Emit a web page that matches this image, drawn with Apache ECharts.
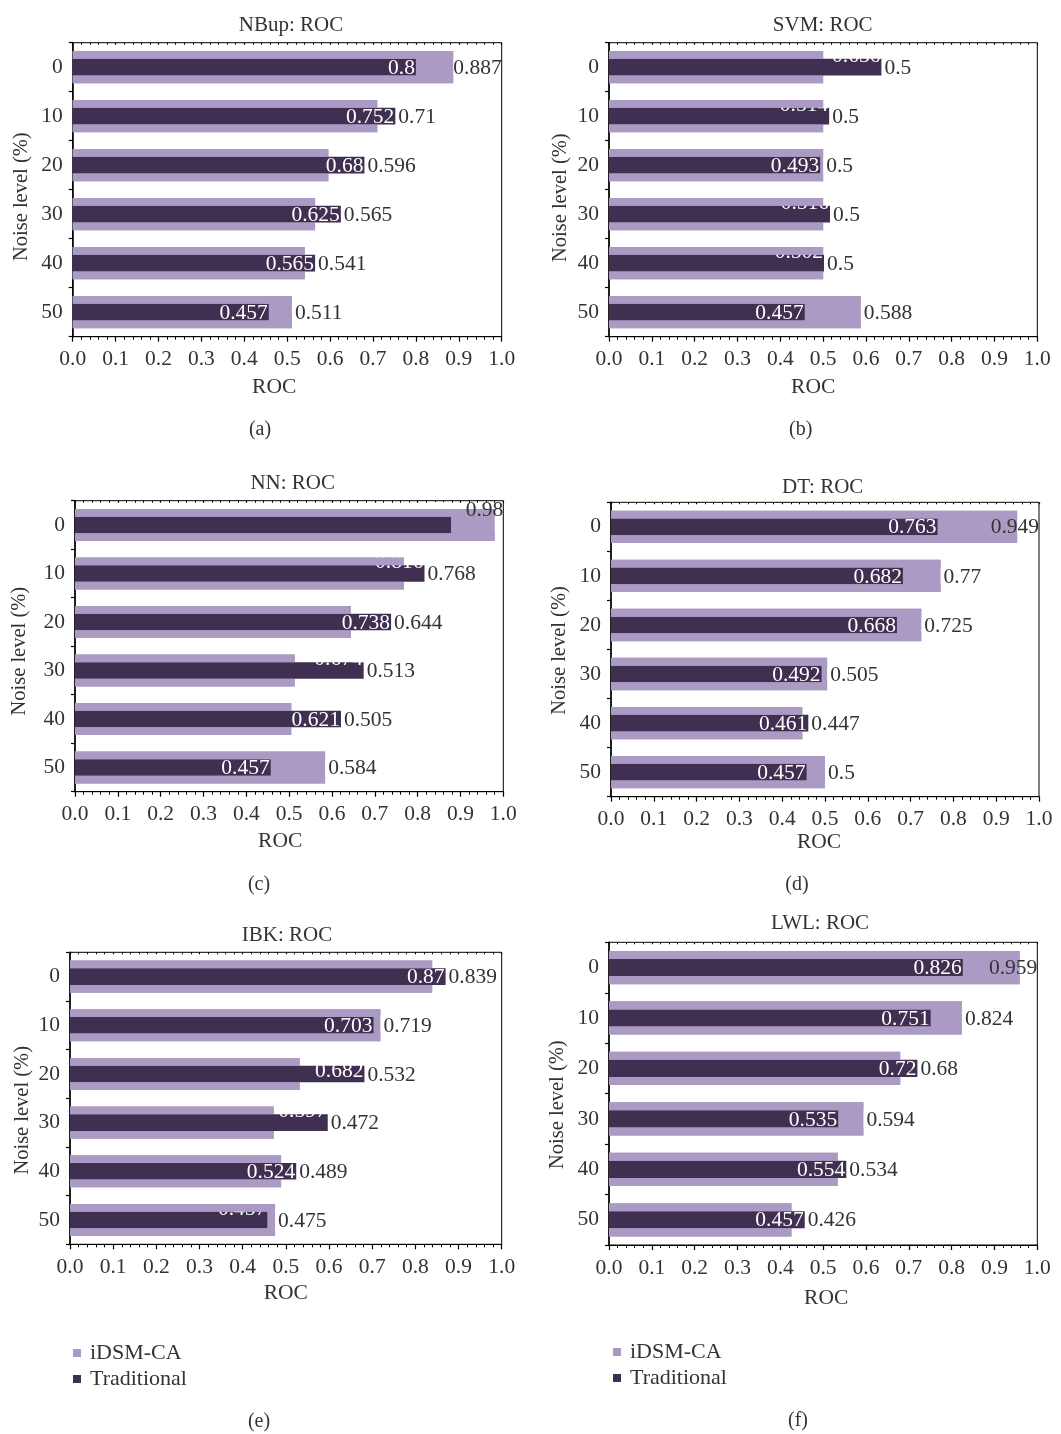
<!DOCTYPE html>
<html>
<head>
<meta charset="utf-8">
<title>ROC under noise: iDSM-CA vs Traditional</title>
<script src="https://cdn.jsdelivr.net/npm/echarts@6/dist/echarts.min.js"></script>
<style>
  html, body { margin: 0; padding: 0; background: #fff; }
  #chart { width: 1061px; height: 1434px; }
</style>
</head>
<body>
<div id="chart"></div>
<script>
// Noise levels (%), top to bottom
const categories = ['0', '10', '20', '30', '40', '50'];
const seriesNames = ['iDSM-CA', 'Traditional'];
const panelTitles = ['NBup: ROC', 'SVM: ROC', 'NN: ROC', 'DT: ROC', 'IBK: ROC', 'LWL: ROC'];
const captions = ['(a)', '(b)', '(c)', '(d)', '(e)', '(f)'];
const xTickLabels = ['0.0', '0.1', '0.2', '0.3', '0.4', '0.5', '0.6', '0.7', '0.8', '0.9', '1.0'];

// ROC values per classifier
const idsmNBup = [0.887, 0.71, 0.596, 0.565, 0.541, 0.511];
const tradNBup = [0.8, 0.752, 0.68, 0.625, 0.565, 0.457];
const idsmSVM = [0.5, 0.5, 0.5, 0.5, 0.5, 0.588];
const tradSVM = [0.636, 0.514, 0.493, 0.516, 0.502, 0.457];
const idsmNN = [0.98, 0.768, 0.644, 0.513, 0.505, 0.584];
const tradNN = [0.878, 0.816, 0.738, 0.674, 0.621, 0.457];
const idsmDT = [0.949, 0.77, 0.725, 0.505, 0.447, 0.5];
const tradDT = [0.763, 0.682, 0.668, 0.492, 0.461, 0.457];
const idsmIBK = [0.839, 0.719, 0.532, 0.472, 0.489, 0.475];
const tradIBK = [0.87, 0.703, 0.682, 0.597, 0.524, 0.457];
const idsmLWL = [0.959, 0.824, 0.68, 0.594, 0.534, 0.426];
const tradLWL = [0.826, 0.751, 0.72, 0.535, 0.554, 0.457];

const idsmAll = [idsmNBup, idsmSVM, idsmNN, idsmDT, idsmIBK, idsmLWL];
const tradAll = [tradNBup, tradSVM, tradNN, tradDT, tradIBK, tradLWL];

// Panel geometry: plot box [left, top, width, height], title centre, caption centre,
// x-name [dx, gap], y-name [gap, shift down], label lifts (px) keyed by row
const layouts = [
  { box: [72.7, 42.7, 429, 294],     title: [291, 25],     cap: [260, 430],    xName: [-13, 40], yName: [41, 7],
    innerLift: {}, outerLift: {} },
  { box: [609, 42.7, 428.3, 294],    title: [822.7, 25],   cap: [800.7, 430],  xName: [-10, 40], yName: [38, 8],
    innerLift: { 0: 12, 1: 12, 3: 12, 4: 12 }, outerLift: {} },
  { box: [75, 500.7, 428.3, 291],    title: [292.7, 483],  cap: [259, 885],    xName: [-9, 39],  yName: [45, 5],
    innerLift: { 0: 16, 1: 12, 3: 12 }, outerLift: { 0: 16 } },
  { box: [611, 502.3, 428, 294.4],   title: [822.7, 486.7], cap: [797, 885],   xName: [-6, 33],  yName: [41, 1],
    innerLift: {}, outerLift: {} },
  { box: [70, 952.3, 431.7, 292],    title: [287, 935],    cap: [259, 1421.7], xName: [0, 38],   yName: [37, 12],
    innerLift: { 2: 4, 3: 12, 5: 12 }, outerLift: {} },
  { box: [609, 942.3, 428.3, 302.7], title: [820, 923],    cap: [798, 1421],   xName: [3, 42],   yName: [41, 11],
    innerLift: {}, outerLift: {} }
];

const FONT = 'Liberation Serif';
const TEXT = '#333';
const LIGHT = '#ab9bc4';
const DARK = '#3f2f50';
const FS = 21.5;
const LABEL_DY = 1; // value labels sit a touch below the bar centre line

// Bar thickness as a share of the category band
const WIDE = 0.66;   // iDSM-CA
const NARROW = 0.34; // Traditional
const EDGE = (WIDE - NARROW) / 2; // light rim above and below the dark bar

// Place the iDSM-CA value just past the longer of the two bars, kept inside the plot box
function outerLabelLayout(idsm, trad, lift) {
  return function (p) {
    const i = p.dataIndex;
    const v = idsm[i];
    const scale = p.rect.width / v;
    const end = p.rect.x + Math.max(v, trad[i]) * scale;
    const right = p.rect.x + 1.0 * scale;
    const x = Math.min(end + 3, right - p.labelRect.width);
    return {
      x: x, y: p.rect.y + p.rect.height / 2 + LABEL_DY - (lift[i] || 0),
      align: 'left', verticalAlign: 'middle'
    };
  };
}

const option = {
  backgroundColor: '#fff',
  animation: false,
  textStyle: { fontFamily: FONT },
  title: [],
  grid: [],
  xAxis: [],
  yAxis: [],
  series: [],
  legend: []
};

layouts.forEach(function (L, g) {
  option.grid.push({
    left: L.box[0], top: L.box[1], width: L.box[2], height: L.box[3],
    show: true, borderColor: '#000', borderWidth: 1, backgroundColor: 'transparent'
  });

  option.title.push({
    text: panelTitles[g], left: L.title[0], top: L.title[1] - 10, textAlign: 'center', padding: 0,
    textStyle: { fontFamily: FONT, fontSize: 21, fontWeight: 'normal', color: TEXT }
  });
  option.title.push({
    text: captions[g], left: L.cap[0], top: L.cap[1] - 10, textAlign: 'center', padding: 0,
    textStyle: { fontFamily: FONT, fontSize: 20, fontWeight: 'normal', color: TEXT }
  });

  const dx = L.xName[0];
  option.xAxis.push({
    type: 'value', gridIndex: g, min: 0, max: 1, interval: 0.1,
    name: 'ROC', nameLocation: 'middle', nameGap: L.xName[1],
    nameTextStyle: {
      fontFamily: FONT, fontSize: FS, color: TEXT,
      padding: dx < 0 ? [0, -2 * dx, 0, 0] : [0, 0, 0, 2 * dx]
    },
    axisLine: { show: true, lineStyle: { color: '#000', width: 1.2 } },
    axisTick: { show: true, length: 5, lineStyle: { color: '#000', width: 1.2 } },
    minorTick: { show: true, splitNumber: 5, length: 3, lineStyle: { color: '#000', width: 1 } },
    splitLine: { show: false },
    minorSplitLine: { show: false },
    axisLabel: {
      fontFamily: FONT, fontSize: FS, color: TEXT, margin: 12,
      formatter: function (v) { return xTickLabels[Math.round(v * 10)]; }
    }
  });
  // Same scale again, ticks drawn on the inner side so they cross the axis line
  option.xAxis.push({
    type: 'value', gridIndex: g, min: 0, max: 1, interval: 0.1,
    axisLine: { show: false },
    axisTick: { show: true, inside: true, length: 2, lineStyle: { color: '#000', width: 1.2 } },
    minorTick: { show: true, splitNumber: 5, length: 2, lineStyle: { color: '#000', width: 1 } },
    splitLine: { show: false },
    axisLabel: { show: false }
  });

  const ys = L.yName[1];
  // y axes: 0 visible (wide bars), 1 dark bars, 2 light rims, 3 value labels
  option.yAxis.push({
    type: 'category', gridIndex: g, data: categories, inverse: true,
    name: 'Noise level (%)', nameLocation: 'middle', nameGap: L.yName[0],
    nameTextStyle: {
      fontFamily: FONT, fontSize: 20.5, color: TEXT,
      padding: [0, 2 * ys, 0, 0]
    },
    axisLine: { show: true, lineStyle: { color: '#000', width: 1.5 } },
    axisTick: { show: true, length: 4, alignWithLabel: false, lineStyle: { color: '#000', width: 1.2 } },
    axisLabel: { fontFamily: FONT, fontSize: FS, color: TEXT, margin: 10 },
    splitLine: { show: false }
  });
  for (let k = 0; k < 3; k++) {
    option.yAxis.push({ type: 'category', gridIndex: g, data: categories, inverse: true, show: false });
  }

  const idsm = idsmAll[g];
  const trad = tradAll[g];
  const xi = 2 * g;
  const yi = 4 * g;

  // iDSM-CA bars
  option.series.push({
    name: seriesNames[0], type: 'bar', xAxisIndex: xi, yAxisIndex: yi, z: 2,
    data: idsm, barWidth: (WIDE * 100) + '%', itemStyle: { color: LIGHT }
  });
  // Traditional bars with their value inside the bar end
  option.series.push({
    name: seriesNames[1], type: 'bar', xAxisIndex: xi, yAxisIndex: yi + 1, z: 3,
    data: trad.map(function (v, i) {
      const lift = L.innerLift[i] || 0;
      return lift ? { value: v, label: { offset: [0, LABEL_DY - lift] } } : v;
    }),
    barWidth: (NARROW * 100) + '%', itemStyle: { color: DARK },
    label: {
      show: true, position: 'insideRight', distance: 1, offset: [0, LABEL_DY],
      color: '#fff', fontFamily: FONT, fontSize: FS,
      formatter: function (p) { return String(p.value); }
    }
  });
  // Light rims of the iDSM-CA bars, redrawn over the white values so these show only on the dark bar
  const rimGap = (NARROW / EDGE * 100) + '%';
  for (let k = 0; k < 2; k++) {
    option.series.push({
      name: seriesNames[0], type: 'bar', xAxisIndex: xi, yAxisIndex: yi + 2, z: 4, silent: true,
      data: idsm, barWidth: (EDGE * 100) + '%', barGap: rimGap, itemStyle: { color: LIGHT }
    });
  }
  // iDSM-CA value labels
  option.series.push({
    name: seriesNames[0], type: 'bar', xAxisIndex: xi, yAxisIndex: yi + 3, z: 5, silent: true,
    data: idsm, barWidth: (WIDE * 100) + '%', itemStyle: { color: 'rgba(0,0,0,0)' },
    label: {
      show: true, position: 'right', color: TEXT, fontFamily: FONT, fontSize: FS,
      formatter: function (p) { return String(p.value); }
    },
    labelLayout: outerLabelLayout(idsm, trad, L.outerLift)
  });
});

// Legends under panels (e) and (f)
[[73, 1342], [613, 1341]].forEach(function (pos) {
  option.legend.push({
    data: seriesNames, orient: 'vertical', left: pos[0], top: pos[1], padding: 0,
    icon: 'rect', itemWidth: 8, itemHeight: 8, itemGap: 4, selectedMode: false,
    textStyle: { fontFamily: FONT, fontSize: 22, color: TEXT, padding: [0, 0, 0, 4] }
  });
});

const chart = echarts.init(document.getElementById('chart'), null, { renderer: 'canvas' });
chart.setOption(option);
</script>
</body>
</html>
